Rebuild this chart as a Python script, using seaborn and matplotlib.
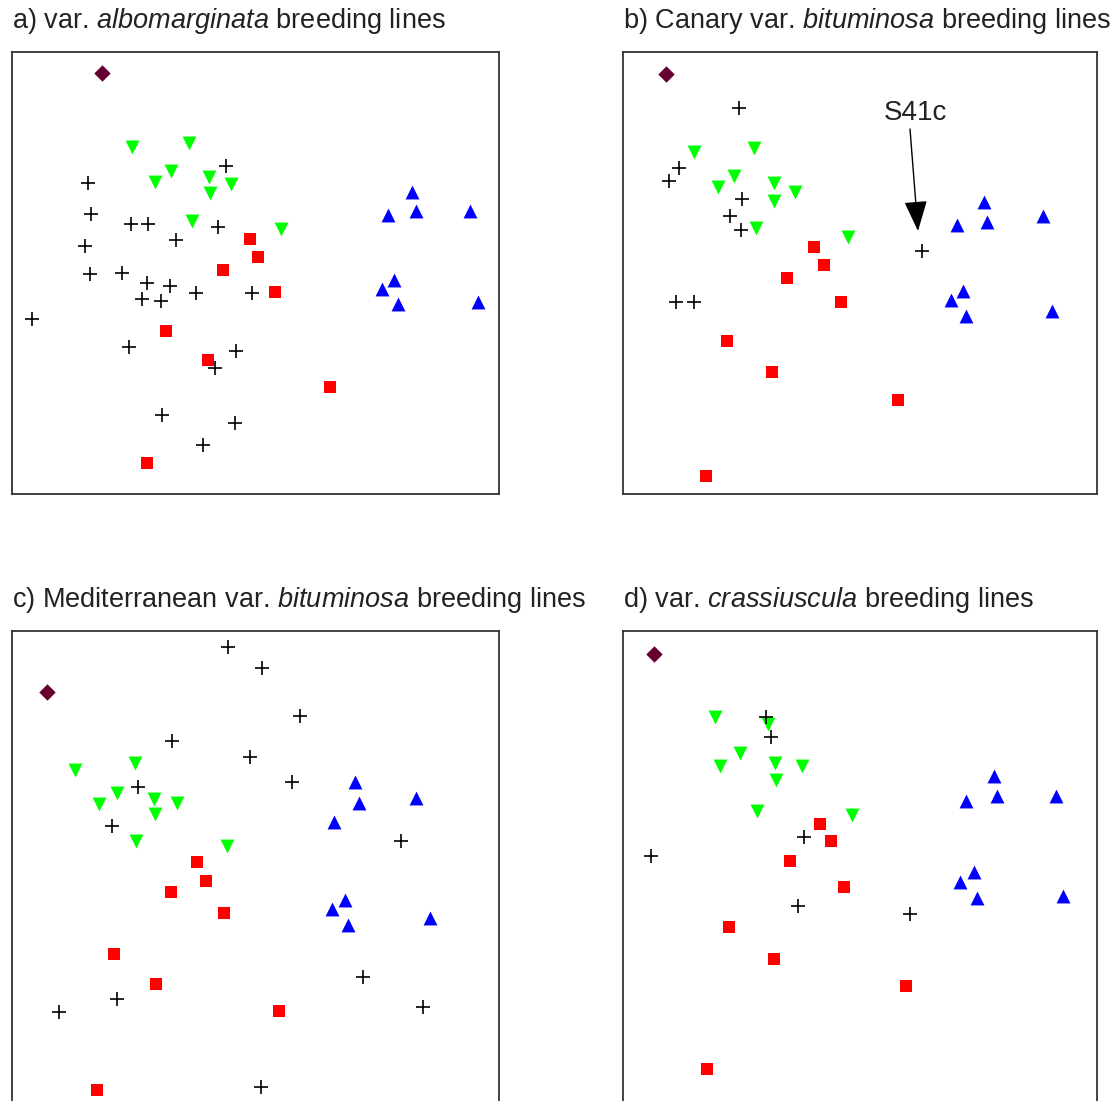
import pandas as pd
import seaborn as sns
import matplotlib.pyplot as plt

sns.set_theme(style="white")
plt.rcParams["font.family"] = ["Liberation Sans", "DejaVu Sans"]
plt.rcParams["mathtext.fontset"] = "custom"
plt.rcParams["mathtext.rm"] = "Liberation Sans"
plt.rcParams["mathtext.it"] = "Liberation Sans:italic"

# panel titles (italic part in mathtext)
TITLES = [
    r"a) var. $\it{albomarginata}$ breeding lines",
    r"b) Canary var. $\it{bituminosa}$ breeding lines",
    r"c) Mediterranean var. $\it{bituminosa}$ breeding lines",
    r"d) var. $\it{crassiuscula}$ breeding lines",
]

# point coordinates (ordination scores, screen units)
# panel a
a_ref_x = [102]
a_ref_y = [73]
a_green_x = [132, 189, 171, 155, 209, 231, 210, 192, 281]
a_green_y = [147, 143, 171, 182, 177, 184, 193, 221, 229]
a_black_x = [226, 88, 91, 131, 148, 176, 218, 85, 90, 122, 147, 170, 142, 161, 196, 252,
             32, 129, 236, 215, 162, 235, 203]
a_black_y = [166, 183, 214, 224, 224, 240, 227, 246, 274, 273, 283, 286, 299, 301, 293, 293,
             319, 347, 351, 368, 415, 423, 445]
a_red_x = [250, 258, 223, 166, 208, 147, 275, 330]
a_red_y = [239, 257, 270, 331, 360, 463, 292, 387]
a_blue_x = [412, 388, 416, 470, 394, 382, 398, 478]
a_blue_y = [192, 215, 211, 211, 280, 289, 304, 302]

# panel b
b_ref_x = [666]
b_ref_y = [74]
b_green_x = [694, 754, 734, 718, 774, 795, 774, 756, 848]
b_green_y = [152, 148, 176, 187, 183, 192, 201, 228, 237]
b_black_x = [739, 679, 669, 742, 730, 741, 676, 694, 922]
b_black_y = [108, 168, 181, 199, 216, 230, 302, 302, 251]
b_red_x = [814, 824, 787, 841, 727, 772, 706, 898]
b_red_y = [247, 265, 278, 302, 341, 372, 476, 400]
b_blue_x = [984, 957, 987, 1043, 963, 951, 966, 1052]
b_blue_y = [202, 225, 222, 216, 291, 300, 316, 311]

# panel c
c_ref_x = [47]
c_ref_y = [692]
c_green_x = [75, 135, 117, 99, 154, 177, 155, 136, 227]
c_green_y = [770, 763, 793, 804, 799, 803, 814, 841, 846]
c_black_x = [228, 262, 300, 172, 250, 292, 138, 112, 401, 363, 423, 117, 59, 261]
c_black_y = [647, 668, 716, 741, 757, 782, 787, 826, 841, 977, 1007, 999, 1012, 1087]
c_red_x = [197, 206, 171, 224, 114, 156, 279, 97]
c_red_y = [862, 881, 892, 913, 954, 984, 1011, 1090]
c_blue_x = [355, 359, 334, 416, 345, 332, 348, 430]
c_blue_y = [782, 803, 822, 798, 900, 909, 925, 918]

# panel d
d_ref_x = [654]
d_ref_y = [654]
d_green_x = [715, 768, 740, 720, 775, 802, 776, 757, 852]
d_green_y = [717, 724, 753, 766, 763, 766, 780, 811, 815]
d_black_x = [766, 771, 651, 804, 798, 910]
d_black_y = [717, 737, 856, 837, 906, 914]
d_red_x = [820, 831, 790, 844, 729, 774, 906, 707]
d_red_y = [824, 841, 861, 887, 927, 959, 986, 1069]
d_blue_x = [994, 966, 997, 1056, 974, 960, 977, 1063]
d_blue_y = [776, 801, 796, 796, 872, 882, 898, 896]

PANELS = [
    (a_ref_x, a_ref_y, a_green_x, a_green_y, a_black_x, a_black_y, a_red_x, a_red_y, a_blue_x, a_blue_y),
    (b_ref_x, b_ref_y, b_green_x, b_green_y, b_black_x, b_black_y, b_red_x, b_red_y, b_blue_x, b_blue_y),
    (c_ref_x, c_ref_y, c_green_x, c_green_y, c_black_x, c_black_y, c_red_x, c_red_y, c_blue_x, c_blue_y),
    (d_ref_x, d_ref_y, d_green_x, d_green_y, d_black_x, d_black_y, d_red_x, d_red_y, d_blue_x, d_blue_y),
]

# axes boxes in picture pixels: left, top, right, bottom
BOXES = [(12, 52, 499, 494), (623, 52, 1097, 494), (12, 631, 499, 1112), (623, 631, 1097, 1112)]

STYLES = {
    "ref": dict(marker="D", color="#660033", s=70, linewidth=0),
    "green": dict(marker="v", color="#00ff00", s=100, linewidth=0),
    "black": dict(marker="+", color="black", s=115, linewidth=1.2),
    "red": dict(marker="s", color="#ff0000", s=72, linewidth=0),
    "blue": dict(marker="^", color="#0000ff", s=100, linewidth=0),
}

W, H = 1116, 1101
fig = plt.figure(figsize=(W / 100, H / 100), dpi=100)

for i, (box, pts, title) in enumerate(zip(BOXES, PANELS, TITLES)):
    l, t, r, b = box
    ax = fig.add_axes([l / W, 1 - b / H, (r - l) / W, (b - t) / H])
    for k, name in enumerate(["ref", "green", "black", "red", "blue"]):
        df = pd.DataFrame({"x": pts[2 * k], "y": pts[2 * k + 1]})
        sns.scatterplot(data=df, x="x", y="y", ax=ax, legend=False, **STYLES[name])
    ax.set_xlim(l, r)
    ax.set_ylim(b, t)
    ax.set_xticks([])
    ax.set_yticks([])
    ax.set_xlabel("")
    ax.set_ylabel("")
    for sp in ax.spines.values():
        sp.set_color("#333333")
        sp.set_linewidth(1.3)
    ax.text(0, (b - t + 31) / (b - t), title, transform=ax.transAxes, ha="left", va="center",
            fontsize=19.5, color="#222222")
    if i == 1:
        ax.text(915, 113, "S41c", ha="center", va="center", fontsize=20, color="#222222")
        ax.annotate("", xy=(918, 231), xytext=(910, 129),
                    arrowprops=dict(arrowstyle="-|>,head_length=0.95,head_width=0.36",
                                    color="black", lw=1, mutation_scale=20,
                                    shrinkA=0, shrinkB=0))

fig.savefig("out.png", dpi=100)
